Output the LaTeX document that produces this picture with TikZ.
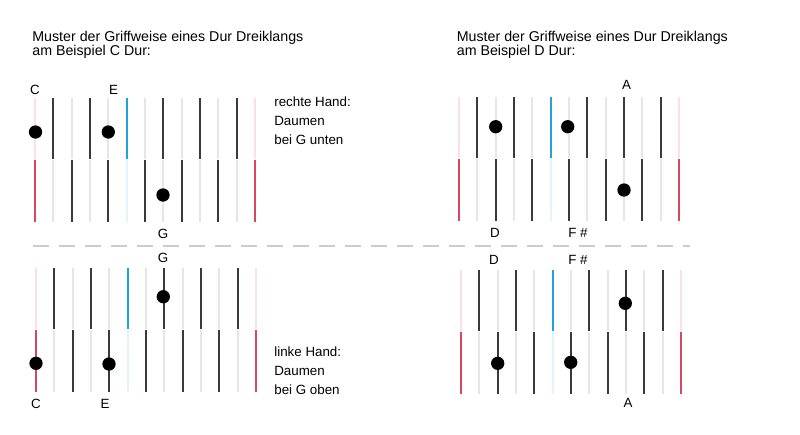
\documentclass[tikz,border=0pt]{standalone}
\usepackage{fontspec}
\setmainfont{Liberation Sans}
\definecolor{tastenrot}{HTML}{D9475E}
\definecolor{tastenrosa}{HTML}{FBE1E7}
\definecolor{tastenblau}{HTML}{1FA3E0}
\definecolor{tasteneis}{HTML}{E2F4FB}
\definecolor{tastengrau}{HTML}{E6E6E6}
\definecolor{tastendunkel}{HTML}{3A3A3A}
\definecolor{trennlinie}{HTML}{CCCCCC}
% Farben der 13 Linien: oberer Teil / unterer Teil
\newcommand{\tastenliste}{0/tastenrosa/tastenrot,1/tastendunkel/tastengrau,2/tastengrau/tastendunkel,3/tastendunkel/tastengrau,4/tastengrau/tastendunkel,5/tastenblau/tasteneis,6/tastengrau/tastendunkel,7/tastendunkel/tastengrau,8/tastengrau/tastendunkel,9/tastendunkel/tastengrau,10/tastengrau/tastendunkel,11/tastendunkel/tastengrau,12/tastenrosa/tastenrot}
\begin{document}
\begin{tikzpicture}[x=0.02cm, y=-0.02cm,
    titel/.style={font=\fontsize{8.1}{9.7}\selectfont, inner sep=0pt, anchor=base west},
    hinweis/.style={font=\fontsize{7.6}{9}\selectfont, inner sep=0pt, anchor=base west},
    ton/.style={font=\fontsize{7.6}{9}\selectfont, inner sep=0pt, anchor=base},
    finger/.style={circle, fill=black, inner sep=0pt, minimum size=0.266cm}]
    \useasboundingbox (0,0) rectangle (800,434);
    % Überschriften
    \node[titel] (titelC) at (32,41) {Muster der Griffweise eines Dur Dreiklangs};
    \node[titel] (titelCb) at (32,55.3) {am Beispiel C Dur:};
    \node[titel] (titelD) at (456.5,41) {Muster der Griffweise eines Dur Dreiklangs};
    \node[titel] (titelDb) at (456.5,55.3) {am Beispiel D Dur:};
    % vier Tastenfelder: je 13 Linien, oben und unten versetzt
    \foreach \px/\py in {35/98, 36/268, 459/97, 461/270} {
      \foreach \i/\oben/\unten in \tastenliste {
        \draw[\oben, line width=1.1pt] (\px+\i*18.33, \py) -- (\px+\i*18.33, \py+61);
        \draw[\unten, line width=1.1pt] (\px+\i*18.33, \py+62) -- (\px+\i*18.33, \py+124);
      }
    }
    % Trennlinie zwischen rechter und linker Hand
    \coordinate (trennA) at (33,246);
    \coordinate (trennB) at (690,246);
    \draw[trennlinie, line width=0.6pt, dash pattern=on 9.1pt off 5.7pt] (trennA) -- (trennB);
    % C Dur, rechte Hand
    \node[finger] (rC) at (35.5,132) {};
    \node[finger] (rE) at (108.3,132) {};
    \node[finger] (rG) at (163,195) {};
    \node[ton] (rCname) at (35,94) {C};
    \node[ton] (rEname) at (113.5,94) {E};
    \node[ton] (rGname) at (163,238) {G};
    \node[hinweis] (rechts1) at (274,106.7) {rechte Hand:};
    \node[hinweis] (rechts2) at (274,125.7) {Daumen};
    \node[hinweis] (rechts3) at (274,144.5) {bei G unten};
    % C Dur, linke Hand
    \node[finger] (lG) at (163.3,296.7) {};
    \node[finger] (lC) at (36,363.3) {};
    \node[finger] (lE) at (109,364) {};
    \node[ton] (lGname) at (163,262) {G};
    \node[ton] (lCname) at (36,408) {C};
    \node[ton] (lEname) at (105,408) {E};
    \node[hinweis] (links1) at (274,356.7) {linke Hand:};
    \node[hinweis] (links2) at (274,375.7) {Daumen};
    \node[hinweis] (links3) at (274,394.5) {bei G oben};
    % D Dur, rechte Hand
    \node[finger] (rD) at (495.7,126.7) {};
    \node[finger] (rFis) at (567.7,126.7) {};
    \node[finger] (rA) at (624,190) {};
    \node[ton] (rAname) at (626.5,89) {A};
    \node[ton] (rDname) at (495,237) {D};
    \node[ton] (rFisname) at (578,237) {F \#};
    % D Dur, linke Hand
    \node[finger] (lD) at (497.7,363.3) {};
    \node[finger] (lFis) at (570.7,362.3) {};
    \node[finger] (lA) at (625.3,303.3) {};
    \node[ton] (lDname) at (494,264) {D};
    \node[ton] (lFisname) at (578,264) {F \#};
    \node[ton] (lAname) at (628,407) {A};
\end{tikzpicture}
\end{document}
